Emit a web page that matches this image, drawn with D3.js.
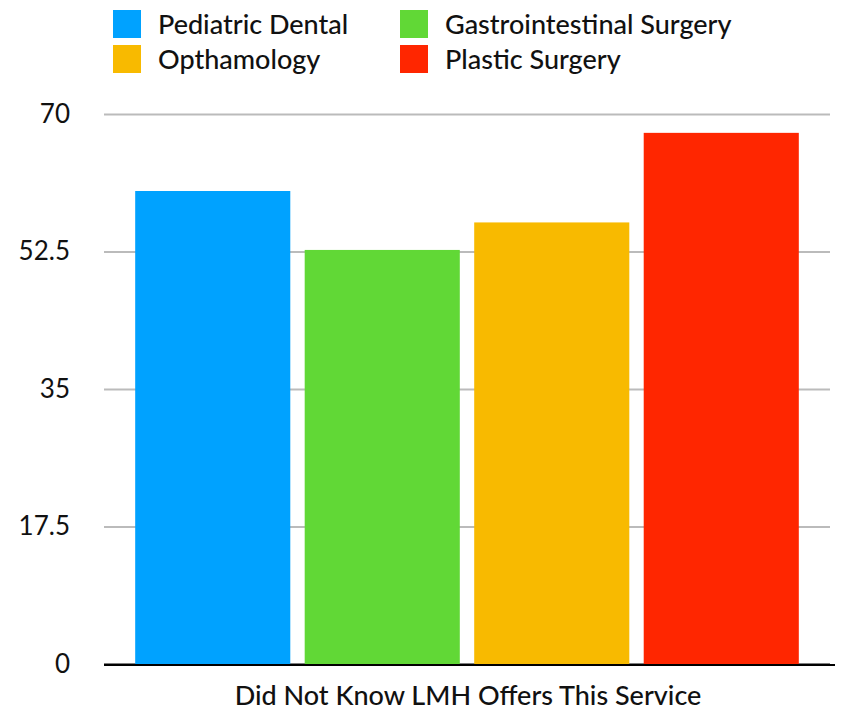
<!DOCTYPE html>
<html>
  <head>
    <meta charset="UTF-8">
    <title>Did Not Know LMH Offers This Service</title>
    <script src="https://d3js.org/d3.v7.min.js"></script>
    <style>
      body { margin: 0; background: #fff; }
      text { font-family: Lato, "Open Sans", sans-serif; fill: #111; }
    </style>
  </head>
  <body>
    <svg width="845" height="711"></svg>
    <script>
      const categories = ["Did Not Know LMH Offers This Service"];
      const seriesNames = ["Pediatric Dental", "Gastrointestinal Surgery", "Opthamology", "Plastic Surgery"];
      const seriesValues = [60.2, 52.7, 56.2, 67.6];
      const seriesColors = ["#00a2ff", "#61d836", "#f8ba00", "#ff2600"];
      const tickValues = [0, 17.5, 35, 52.5, 70];

      const width = 845;
      const height = 711;
      const margin = { top: 114, right: 15, bottom: 47, left: 104 };

      const svg = d3.select("svg");

      const x = d3.scaleBand()
        .domain(categories)
        .range([margin.left, width - margin.right])
        .paddingInner(0)
        .paddingOuter(0.047);

      const xs = d3.scaleBand()
        .domain(seriesNames)
        .range([0, x.bandwidth()])
        .paddingInner(0.085)
        .paddingOuter(0);

      const y = d3.scaleLinear()
        .domain([0, 70])
        .range([height - margin.bottom, margin.top]);

      // gridlines + tick labels
      const yAxis = svg.append("g")
        .attr("transform", `translate(${margin.left},0)`)
        .call(d3.axisLeft(y)
          .tickValues(tickValues)
          .tickSize(-(width - margin.left - margin.right))
          .tickPadding(34)
          .tickFormat(d => d));
      yAxis.select(".domain").remove();
      yAxis.selectAll(".tick line")
        .attr("stroke", d => d === 0 ? "#000" : "#bbb")
        .attr("stroke-width", 2);
      yAxis.selectAll(".tick text")
        .attr("font-size", 26)
        .attr("font-family", "Lato, sans-serif")
        .attr("fill", "#111");

      // bars
      const group = svg.append("g")
        .selectAll("g")
        .data(categories)
        .join("g")
        .attr("transform", d => `translate(${x(d)},0)`);

      group.selectAll("rect")
        .data(seriesNames.map((name, i) => ({ name, value: seriesValues[i], color: seriesColors[i] })))
        .join("rect")
        .attr("x", d => xs(d.name))
        .attr("y", d => y(d.value))
        .attr("width", xs.bandwidth())
        .attr("height", d => y(0) - y(d.value))
        .attr("fill", d => d.color);

      // baseline redrawn on top of bars
      svg.append("line")
        .attr("x1", margin.left)
        .attr("x2", width - 10)
        .attr("y1", y(0) + 1)
        .attr("y2", y(0) + 1)
        .attr("stroke", "#000")
        .attr("stroke-width", 2);

      // category label
      svg.append("g")
        .selectAll("text")
        .data(categories)
        .join("text")
        .attr("x", d => x(d) + x.bandwidth() / 2 + 1)
        .attr("y", 705)
        .attr("text-anchor", "middle")
        .attr("font-size", 27)
        .attr("font-weight", 500)
        .text(d => d);

      // legend, 2 columns
      const legend = svg.append("g")
        .selectAll("g")
        .data(seriesNames)
        .join("g")
        .attr("transform", (d, i) => `translate(${113 + (i % 2) * 287},${10 + Math.floor(i / 2) * 35})`);

      legend.append("rect")
        .attr("width", 28)
        .attr("height", 28)
        .attr("fill", (d, i) => seriesColors[i]);

      legend.append("text")
        .attr("x", 45)
        .attr("y", 24)
        .attr("font-size", 27)
        .attr("font-weight", 500)
        .text(d => d);
    </script>
  </body>
</html>
